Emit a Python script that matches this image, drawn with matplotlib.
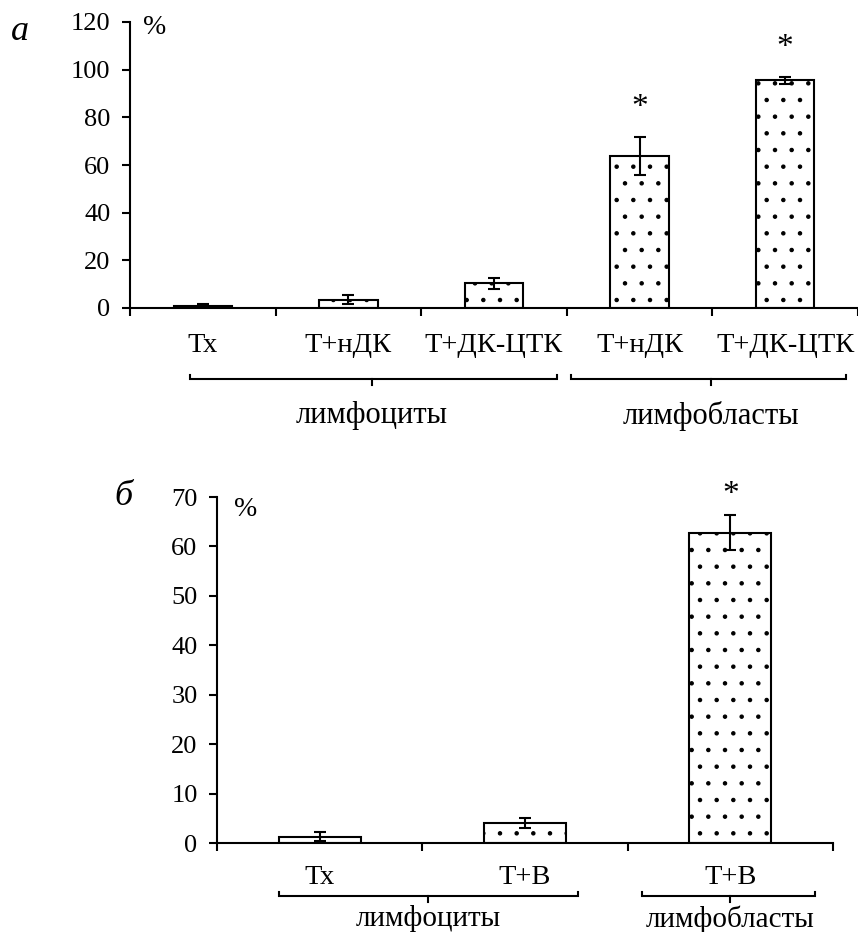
import matplotlib.pyplot as plt
import numpy as np

plt.rcParams['font.family'] = ['Liberation Serif', 'DejaVu Serif']
plt.rcParams['hatch.linewidth'] = 0.8

#%% data

# panel a
cats_a = ['Тх', 'Т+нДК', 'Т+ДК-ЦТК', 'Т+нДК', 'Т+ДК-ЦТК']
vals_a = [1.0, 3.5, 10.3, 63.8, 95.5]
errs_a = [0.5, 2.0, 2.2, 8.0, 1.4]
sig_a = [False, False, False, True, True]
groups_a = ['лимфоциты', 'лимфобласты']
yticks_a = [0, 20, 40, 60, 80, 100, 120]

# panel б
cats_b = ['Тх', 'Т+В', 'Т+В']
vals_b = [1.3, 4.1, 62.8]
errs_b = [0.9, 1.0, 3.5]
sig_b = [False, False, True]
groups_b = ['лимфоциты', 'лимфобласты']
yticks_b = [0, 10, 20, 30, 40, 50, 60, 70]

# bracket extents (x start, x end, x of the middle tick), layout only
brackets_a = [(-0.09, 2.43, 1.16), (2.53, 4.42, 3.49)]
brackets_b = [(-0.2, 1.26, 0.53), (1.57, 2.41, 2.0)]

#%%

W, H = 858, 932
fig = plt.figure(figsize=(W/100, H/100), dpi=100)

ax1 = fig.add_axes([130/W, 1-308/H, 728/W, 286/H])
ax2 = fig.add_axes([217/W, 1-843/H, 616/W, 346/H])


def px2ax(ax, px):
    # pixels below the x axis -> axes fraction
    return -px / (ax.get_position().height * H)


def draw_panel(ax, cats, vals, errs, sig, groups, brackets, yticks,
               lab_dy, br_dy, grp_dy, star_dy, grp_fs=22):
    x = np.arange(len(cats))
    ax.bar(x, vals, width=0.4, color='white', edgecolor='black', linewidth=1.5,
           hatch='.', zorder=2)
    ax.errorbar(x, vals, yerr=errs, fmt='none', ecolor='black', elinewidth=1.5,
                capsize=4.5, capthick=1.5, zorder=3)

    for xi, v, e, s in zip(x, vals, errs, sig):
        if s:
            ax.annotate('*', xy=(xi, v + e), xytext=(0, star_dy), textcoords='offset pixels',
                        ha='center', va='center', fontsize=24, annotation_clip=False)

    ax.set_xlim(-0.5, len(cats) - 0.5)
    ax.set_ylim(yticks[0], yticks[-1])
    ax.set_yticks(yticks)
    ax.set_xticks(np.arange(len(cats) + 1) - 0.5)
    ax.set_xticklabels([])
    ax.tick_params(axis='both', direction='out', length=6, width=1.5, labelsize=19, pad=8)
    for side in ['top', 'right']:
        ax.spines[side].set_visible(False)
    for side in ['left', 'bottom']:
        ax.spines[side].set_linewidth(1.5)

    tr = ax.get_xaxis_transform()
    for xi, c in zip(x, cats):
        ax.text(xi, px2ax(ax, lab_dy), c, transform=tr, ha='center', va='center', fontsize=20.5)

    yb = px2ax(ax, br_dy)
    yup = px2ax(ax, br_dy - 4)
    ydn = px2ax(ax, br_dy + 6)
    for (x0, x1, xc), g in zip(brackets, groups):
        ax.plot([x0, x0, x1, x1], [yup, yb, yb, yup], color='black', lw=1.5,
                transform=tr, clip_on=False, solid_joinstyle='miter')
        ax.plot([xc, xc], [yb, ydn], color='black', lw=1.5, transform=tr, clip_on=False)
        ax.text(xc, px2ax(ax, grp_dy), g, transform=tr, ha='center', va='center', fontsize=grp_fs)


draw_panel(ax1, cats_a, vals_a, errs_a, sig_a, groups_a, brackets_a, yticks_a,
           lab_dy=37, br_dy=71, grp_dy=108, star_dy=29)
draw_panel(ax2, cats_b, vals_b, errs_b, sig_b, groups_b, brackets_b, yticks_b,
           lab_dy=35, br_dy=53, grp_dy=76, star_dy=21, grp_fs=21)

fig.text(155/W, 1-27/H, '%', ha='center', va='center', fontsize=20)
fig.text(246/W, 1-510/H, '%', ha='center', va='center', fontsize=20)
fig.text(20/W, 1-31/H, 'а', ha='center', va='center', fontsize=26, style='italic')
fig.text(123/W, 1-497/H, 'б', ha='center', va='center', fontsize=26, style='italic')

fig.savefig('out.png', dpi=100)
